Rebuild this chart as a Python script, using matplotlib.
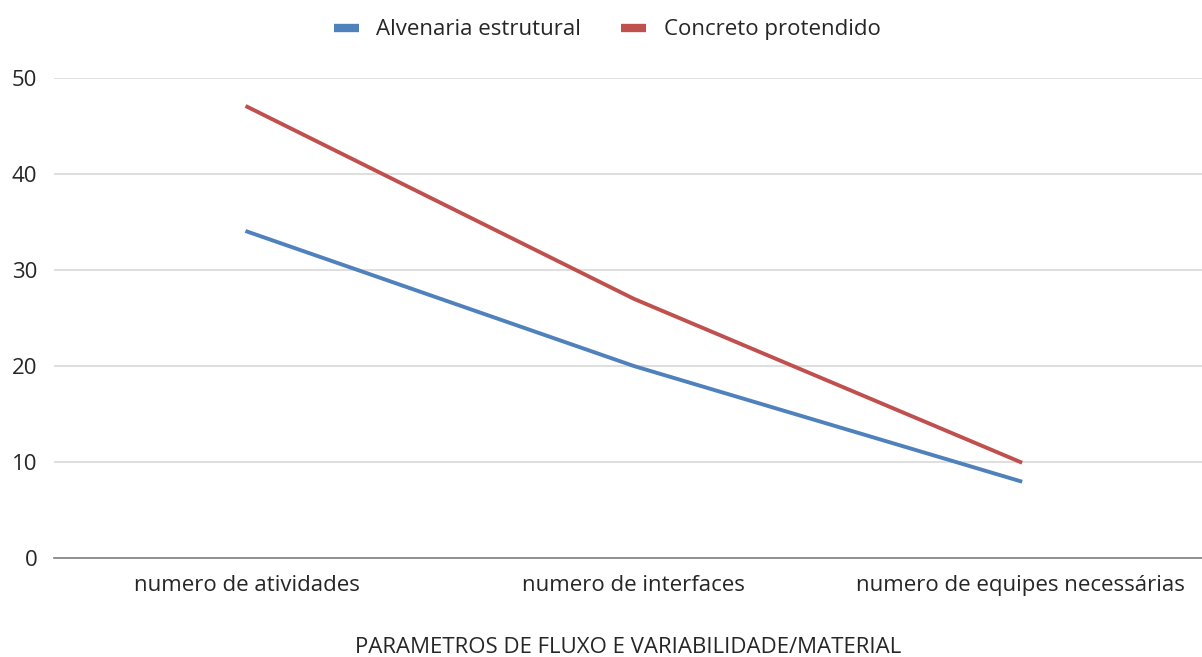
import matplotlib
matplotlib.use("Agg")
import matplotlib.pyplot as plt

categories = ["numero de atividades", "numero de interfaces", "numero de equipes necessárias"]
alvenaria = [34, 20, 8]
concreto = [47, 27, 10]
series_names = ["Alvenaria estrutural", "Concreto protendido"]
yticks = [0, 10, 20, 30, 40, 50]

plt.rcParams['font.family'] = ['Open Sans', 'DejaVu Sans']

fig = plt.figure(figsize=(12.02, 6.57), dpi=100)
ax = fig.add_axes([54/1202, 1-558/657, (1202-54)/1202, (558-78)/657])

x = range(len(categories))
ax.plot(x, alvenaria, color="#4F81BD", lw=2.8, label=series_names[0])
ax.plot(x, concreto, color="#C0504D", lw=2.8, label=series_names[1])

ax.set_xlim(-0.5, 2.47)
ax.set_ylim(0, 50)
ax.set_yticks(yticks)
ax.set_xticks(list(x))
ax.set_xticklabels(categories)
ax.grid(axis='y', color="#D9D9D9", lw=1.2)
ax.set_axisbelow(True)
for s in ["top", "right", "left"]:
    ax.spines[s].set_visible(False)
ax.spines["bottom"].set_color("#7F7F7F")
ax.spines["bottom"].set_linewidth(1.2)
ax.tick_params(axis='both', length=0, labelsize=16, colors="#262626")
ax.tick_params(axis='x', pad=12)
ax.tick_params(axis='y', pad=12)
ax.set_xlabel("PARAMETROS DE FLUXO E VARIABILIDADE/MATERIAL", fontsize=16, color="#262626", labelpad=30)

ax.legend(loc="lower center", bbox_to_anchor=(0.482, 1.038), ncol=2, frameon=False,
          fontsize=16, handlelength=1.1, handleheight=0.5, columnspacing=1.8, handletextpad=0.8,
          labelcolor="#262626")
leg = ax.get_legend()
for h in leg.get_lines():
    h.set_linewidth(6)
    h.set_solid_capstyle('butt')

fig.savefig("out.png", dpi=100)
